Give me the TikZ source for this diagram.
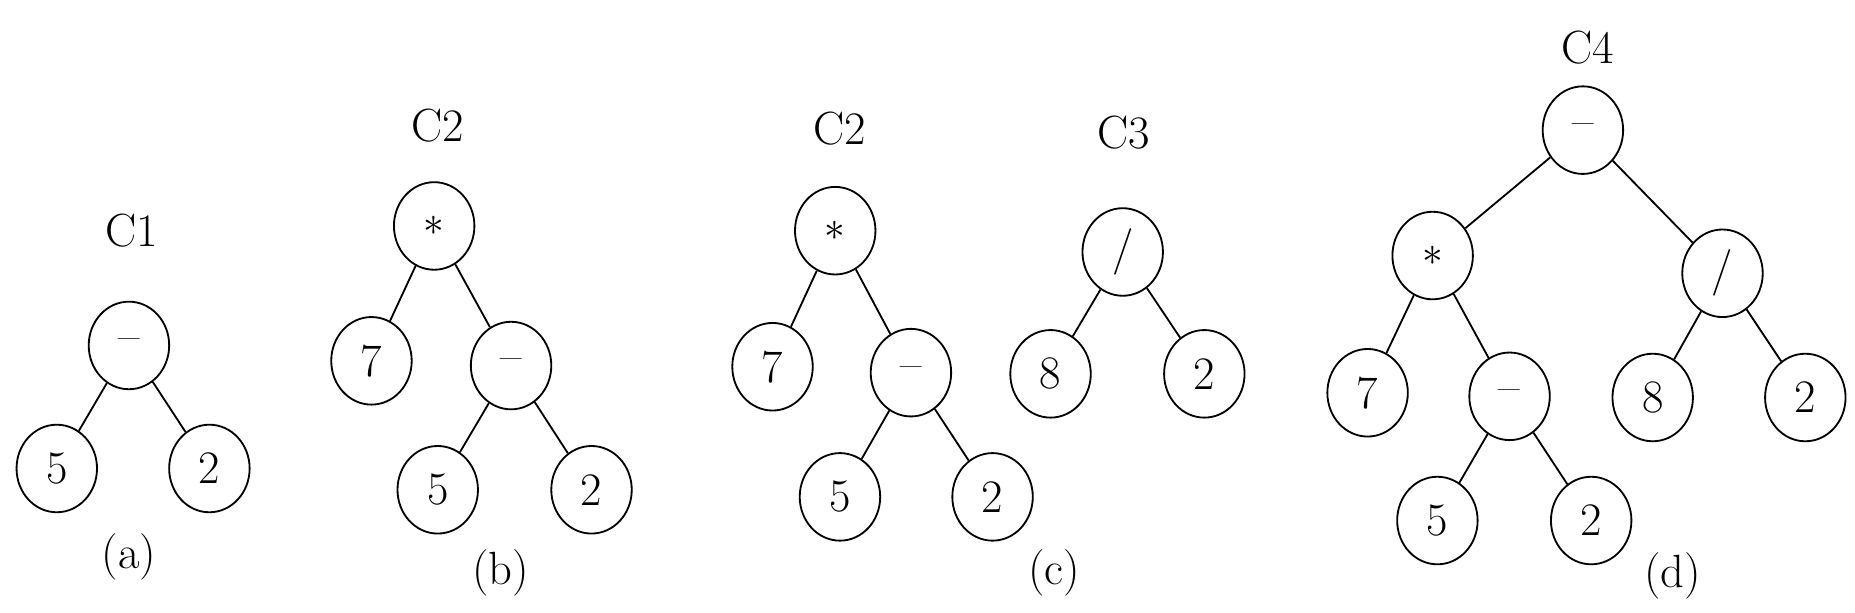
\documentclass[tikz,border=0pt]{standalone}
\usetikzlibrary{shapes.geometric}

\begin{document}
\begin{tikzpicture}[x=0.025cm,y=-0.025cm]
    \tikzset{every node/.style={font=\fontsize{28}{32}\selectfont}}
    \tikzset{vertex/.style={draw=black,line width=1.1pt,ellipse,inner sep=0pt,minimum width=1.7cm,minimum height=1.85cm}}
    \tikzset{edge/.style={line width=1.1pt}}
    \useasboundingbox (0,0) rectangle (1568,518);

    % (a)
    \node (ta) at (111, 195) {C1};
    \node[vertex] (a1) at (109, 292) {--};
    \node[vertex] (a2) at (48, 396) {5};
    \node[vertex] (a3) at (177, 396) {2};
    \node (la) at (109, 471) {(a)};

    % (b)
    \node (tb) at (370, 106) {C2};
    \node[vertex] (b1) at (367, 191) {$*$};
    \node[vertex] (b2) at (314, 305) {7};
    \node[vertex] (b3) at (432, 309) {--};
    \node[vertex] (b4) at (370, 414) {5};
    \node[vertex] (b5) at (500, 414) {2};
    \node (lb) at (423, 484) {(b)};

    % (c)
    \node (tc1) at (710, 109) {C2};
    \node[vertex] (c1) at (706, 195) {$*$};
    \node[vertex] (c2) at (653, 310) {7};
    \node[vertex] (c3) at (770, 315) {--};
    \node[vertex] (c4) at (710, 420) {5};
    \node[vertex] (c5) at (839, 420) {2};
    \node (tc2) at (950, 112) {C3};
    \node[vertex] (c6) at (949, 213) {/};
    \node[vertex] (c7) at (888, 316) {8};
    \node[vertex] (c8) at (1018, 316) {2};
    \node (lc) at (891, 484) {(c)};

    % (d)
    \node (td) at (1342, 40) {C4};
    \node[vertex] (d1) at (1338, 110) {--};
    \node[vertex] (d2) at (1211, 216) {$*$};
    \node[vertex] (d3) at (1456, 231) {/};
    \node[vertex] (d4) at (1156, 332) {7};
    \node[vertex] (d5) at (1276, 335) {--};
    \node[vertex] (d6) at (1397, 336) {8};
    \node[vertex] (d7) at (1526, 336) {2};
    \node[vertex] (d8) at (1215, 440) {5};
    \node[vertex] (d9) at (1345, 440) {2};
    \node (ld) at (1414, 487) {(d)};

    \begin{scope}[every path/.style={edge}]
       \draw (a1) -- (a2);
       \draw (a1) -- (a3);

       \draw (b1) -- (b2);
       \draw (b1) -- (b3);
       \draw (b3) -- (b4);
       \draw (b3) -- (b5);

       \draw (c1) -- (c2);
       \draw (c1) -- (c3);
       \draw (c3) -- (c4);
       \draw (c3) -- (c5);
       \draw (c6) -- (c7);
       \draw (c6) -- (c8);

       \draw (d1) -- (d2);
       \draw (d1) -- (d3);
       \draw (d2) -- (d4);
       \draw (d2) -- (d5);
       \draw (d3) -- (d6);
       \draw (d3) -- (d7);
       \draw (d5) -- (d8);
       \draw (d5) -- (d9);
    \end{scope}
\end{tikzpicture}
\end{document}
